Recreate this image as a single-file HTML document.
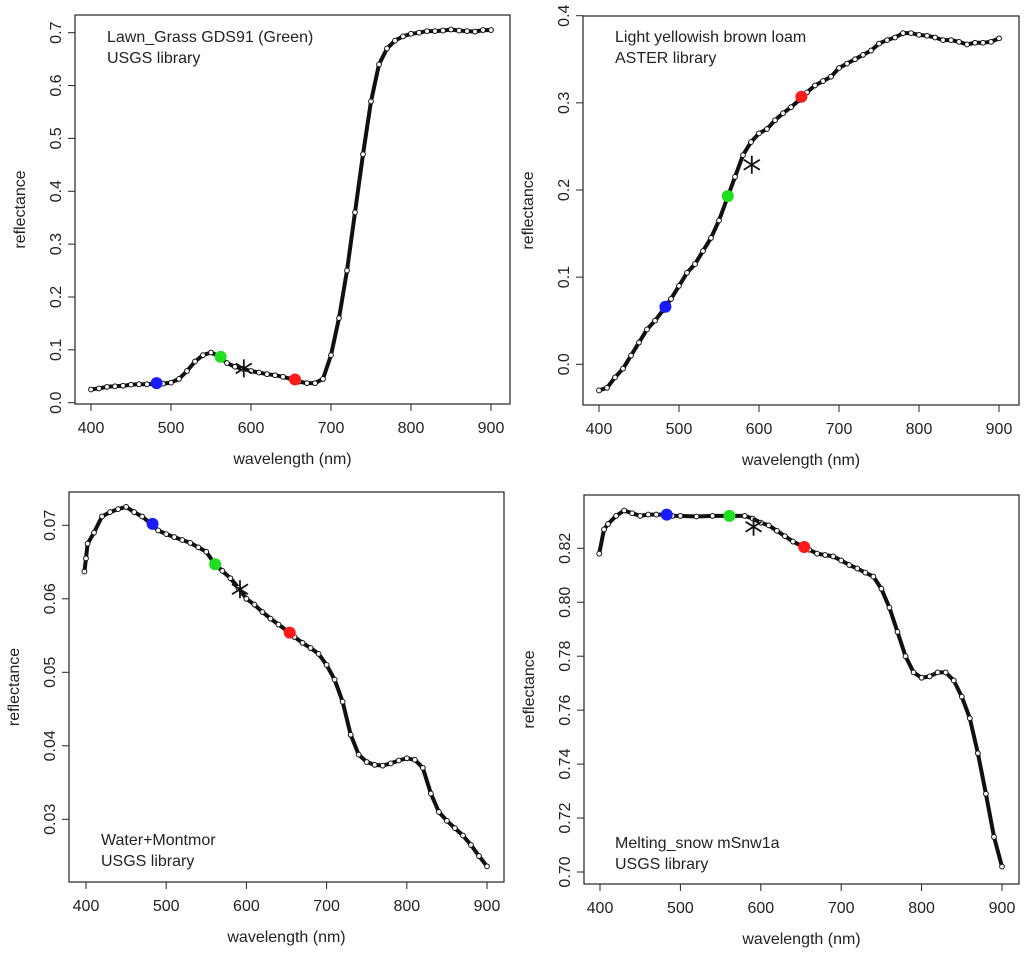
<!DOCTYPE html>
<html><head><meta charset="utf-8">
<style>
html,body{margin:0;padding:0;background:#fff;}
svg{display:block;font-family:"Liberation Sans",Arial,sans-serif;}
</style></head>
<body>
<svg id="chart" width="1024" height="954" viewBox="0 0 1024 954" xmlns="http://www.w3.org/2000/svg"></svg>
<script>
// ---- data ----
const p1Wave = [400,410,420,430,440,450,460,470,480,490,500,510,520,530,540,550,560,570,580,590,600,610,620,630,640,650,660,670,680,690,700,710,720,730,740,750,760,770,780,790,800,810,820,830,840,850,860,870,880,890,900];
const p1Refl = [0.025,0.027,0.030,0.031,0.032,0.034,0.035,0.035,0.036,0.036,0.038,0.045,0.060,0.078,0.090,0.095,0.088,0.075,0.068,0.064,0.060,0.057,0.054,0.052,0.049,0.045,0.040,0.037,0.037,0.045,0.090,0.160,0.250,0.360,0.470,0.570,0.640,0.670,0.685,0.693,0.698,0.700,0.703,0.703,0.704,0.706,0.704,0.703,0.702,0.705,0.705];
const p1Marks = [482,0.037, 562,0.087, 655,0.044, 591,0.065];

const p2Wave = [400,410,420,430,440,450,460,470,480,490,500,510,520,530,540,550,560,570,580,590,600,610,620,630,640,650,660,670,680,690,700,710,720,730,740,750,760,770,780,790,800,810,820,830,840,850,860,870,880,890,900];
const p2Refl = [-0.030,-0.027,-0.015,-0.005,0.010,0.025,0.040,0.050,0.062,0.075,0.090,0.105,0.115,0.130,0.145,0.165,0.190,0.215,0.240,0.255,0.265,0.270,0.280,0.288,0.295,0.303,0.312,0.320,0.325,0.330,0.340,0.345,0.350,0.355,0.360,0.368,0.372,0.375,0.380,0.380,0.378,0.377,0.375,0.372,0.372,0.370,0.367,0.369,0.369,0.370,0.374];
const p2Marks = [483,0.066, 561,0.193, 653,0.307, 591,0.229];

const p3Wave = [398,400,402,410,420,430,440,450,460,470,480,490,500,510,520,530,540,550,560,570,580,590,600,610,620,630,640,650,660,670,680,690,700,710,720,730,740,750,760,770,780,790,800,810,820,830,840,850,860,870,880,890,900];
const p3Refl = [0.0637,0.0655,0.0675,0.0690,0.0712,0.0718,0.0722,0.0725,0.0718,0.0712,0.0703,0.0693,0.0688,0.0684,0.0680,0.0676,0.0670,0.0664,0.0648,0.0638,0.0628,0.0615,0.0600,0.0592,0.0582,0.0573,0.0565,0.0557,0.0548,0.0540,0.0533,0.0525,0.0510,0.0490,0.0460,0.0415,0.0388,0.0378,0.0374,0.0373,0.0376,0.0380,0.0383,0.0381,0.0370,0.0335,0.0310,0.0298,0.0288,0.0278,0.0265,0.0250,0.0236];
const p3Marks = [483,0.0702, 561,0.0647, 654,0.0554, 592,0.0613];

const p4Wave = [399,405,410,420,430,440,450,460,470,480,490,500,520,540,560,580,590,600,610,620,630,640,650,660,670,680,690,700,710,720,730,740,750,760,770,780,790,800,810,820,830,840,850,860,870,880,890,900];
const p4Refl = [0.818,0.827,0.829,0.832,0.834,0.833,0.832,0.8325,0.8325,0.8325,0.832,0.832,0.8318,0.832,0.832,0.832,0.831,0.8295,0.8285,0.8265,0.8245,0.8225,0.821,0.8195,0.818,0.8175,0.817,0.8155,0.8138,0.8125,0.811,0.8095,0.805,0.798,0.789,0.780,0.774,0.772,0.7725,0.774,0.774,0.771,0.765,0.757,0.744,0.729,0.713,0.702];
const p4Marks = [483,0.8325, 561,0.832, 654,0.8205, 591,0.828];

const xTicks = [400,500,600,700,800,900];
const p1YTicks = ["0.0","0.1","0.2","0.3","0.4","0.5","0.6","0.7"];
const p2YTicks = ["0.0","0.1","0.2","0.3","0.4"];
const p3YTicks = ["0.03","0.04","0.05","0.06","0.07"];
const p4YTicks = ["0.70","0.72","0.74","0.76","0.78","0.80","0.82"];
const p1Label = ["Lawn_Grass GDS91 (Green)","USGS library"];
const p2Label = ["Light yellowish brown loam","ASTER library"];
const p3Label = ["Water+Montmor","USGS library"];
const p4Label = ["Melting_snow mSnw1a","USGS library"];

// ---- layout ----
const panels = [
 {id:"lawn-grass",wave:p1Wave,refl:p1Refl,marks:p1Marks,yt:p1YTicks,label:p1Label,box:[75,15,510,404],xa:[91,491],ya:[0,402.7,0.7,32.7],lab:[107,42,63]},
 {id:"loam",wave:p2Wave,refl:p2Refl,marks:p2Marks,yt:p2YTicks,label:p2Label,box:[583,16,1019,405],xa:[599,999],ya:[0,364.3,0.4,15.7],lab:[615,42,63]},
 {id:"water-montmor",wave:p3Wave,refl:p3Refl,marks:p3Marks,yt:p3YTicks,label:p3Label,box:[69,492,504,882],xa:[86,487],ya:[0.07,525.3,0.03,819.3],lab:[101,845,866]},
 {id:"melting-snow",wave:p4Wave,refl:p4Refl,marks:p4Marks,yt:p4YTicks,label:p4Label,box:[584,495,1019,884],xa:[600,1002],ya:[0.82,548.3,0.70,872],lab:[615,848,869]}
];

const NS="http://www.w3.org/2000/svg";
const svg=document.getElementById('chart');
function mk(tag,attrs,parent){const e=document.createElementNS(NS,tag);for(const k in attrs)e.setAttribute(k,attrs[k]);parent.appendChild(e);return e;}

panels.forEach(p=>{
  const g=mk('g',{},svg);
  
  
  const [l,t,r,b]=p.box;
  const sx=w=>p.xa[0]+(w-400)*(p.xa[1]-p.xa[0])/500;
  const sy=v=>p.ya[1]+(v-p.ya[0])*(p.ya[3]-p.ya[1])/(p.ya[2]-p.ya[0]);
  const box=mk('rect',{x:l,y:t,width:r-l,height:b-t,fill:'none',stroke:'#222','stroke-width':1.2},g);
  
  
  xTicks.forEach(v=>{
    const x=sx(v);
    const tk=mk('line',{x1:x,y1:b,x2:x,y2:b+7,stroke:'#222','stroke-width':1},g);
    
    
    const tx=mk('text',{x:x,y:b+29,'font-size':16,'text-anchor':'middle',fill:'#222'},g);
    tx.textContent=v;
    
    
  });
  p.yt.forEach(s=>{
    const y=sy(parseFloat(s));
    const tk=mk('line',{x1:l-7,y1:y,x2:l,y2:y,stroke:'#222','stroke-width':1},g);
    
    
    const tx=mk('text',{x:0,y:0,'font-size':16,'text-anchor':'middle',fill:'#222',transform:`translate(${l-14},${y}) rotate(-90)`},g);
    tx.textContent=s;
    
    
  });
  const xt=mk('text',{x:(l+r)/2,y:b+60,'font-size':16,'text-anchor':'middle',fill:'#222'},g);
  xt.textContent='wavelength (nm)';
  
  
  const yt=mk('text',{x:0,y:0,'font-size':16,'text-anchor':'middle',fill:'#222',transform:`translate(${l-50},${(t+b)/2}) rotate(-90)`},g);
  yt.textContent='reflectance';
  
  
  p.label.forEach((s,i)=>{
    const tx=mk('text',{x:p.lab[0],y:p.lab[1+i],'font-size':16,fill:'#222'},g);
    tx.textContent=s;
    
    
  });
  const pts=p.wave.map((w,i)=>sx(w).toFixed(1)+','+sy(p.refl[i]).toFixed(1)).join(' ');
  const line=mk('polyline',{points:pts,fill:'none',stroke:'#111','stroke-width':4,'stroke-linejoin':'round'},g);
  
  
  p.wave.forEach((w,i)=>{
    const c=mk('circle',{cx:sx(w),cy:sy(p.refl[i]),r:2.4,fill:'#fff',stroke:'#111','stroke-width':1},g);
    
    
  });
  const cols=['#1a1aff','#1ee01e','#ff1a1a'];
  const names=['blue-band-point','green-band-point','red-band-point'];
  for(let k=0;k<3;k++){
    const c=mk('circle',{cx:sx(p.marks[2*k]),cy:sy(p.marks[2*k+1]),r:6,fill:cols[k]},g);
    
    
  }
  const stx=sx(p.marks[6]), sty=sy(p.marks[7]);
  const st=mk('g',{stroke:'#111','stroke-width':1.8},g);
  
  
  [[0,-9,0,9],[-8,-5,8,5],[-8,5,8,-5]].forEach(a=>mk('line',{x1:stx+a[0],y1:sty+a[1],x2:stx+a[2],y2:sty+a[3]},st));
});
</script>
</body></html>
